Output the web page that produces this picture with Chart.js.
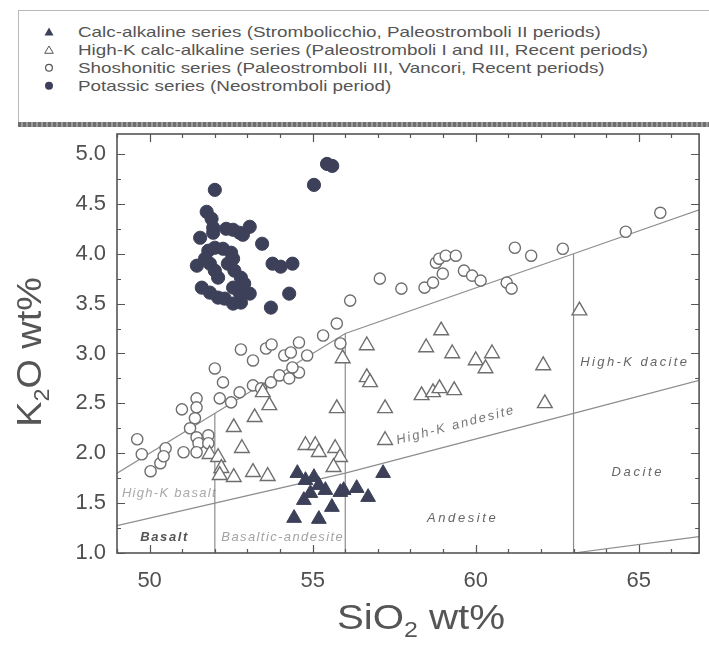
<!DOCTYPE html>
<html>
<head>
<meta charset="utf-8">
<script src="https://cdn.jsdelivr.net/npm/chart.js@4.4.1/dist/chart.umd.min.js"></script>
<style>
  html, body { margin: 0; padding: 0; background: #fff; }
  #wrap { position: relative; width: 709px; height: 648px; overflow: hidden; }
  #chart { position: absolute; left: 0; top: 0; }
  #legend {
    position: absolute; left: 18px; top: 10px; width: 720px; height: 112px;
    box-sizing: border-box; border: 1px solid #b8b8b8; border-bottom: none; background: #fff;
  }
  #legend .band {
    position: absolute; left: -1px; right: 0; bottom: -5px; height: 5px;
    background: repeating-linear-gradient(90deg, #6f6f6f 0 3px, #9c9c9c 3px 5px);
  }
  #legend .row {
    position: absolute; left: 0; height: 20px; display: flex; align-items: center;
    font: 14.5px "Liberation Sans", Arial, sans-serif; color: #555; white-space: nowrap;
  }
  #legend .row svg { margin-left: 25px; margin-right: 24px; flex: none; }
  #legend .row span { display: inline-block; transform: scaleX(1.3); transform-origin: 0 50%; }
</style>
</head>
<body>
<div id="wrap">
  <canvas id="chart" width="709" height="648"></canvas>
  <div id="legend"><div class="band"></div></div>
</div>
<script>
// Series names
const seriesLabels = [
  'Calc-alkaline series (Strombolicchio, Paleostromboli II periods)',
  'High-K calc-alkaline series (Paleostromboli I and III, Recent periods)',
  'Shoshonitic series (Paleostromboli III, Vancori, Recent periods)',
  'Potassic series (Neostromboli period)'
];

// Calc-alkaline series: SiO2 and K2O (wt%)
const calcAlkSiO2 = [54.53, 54.78, 55.04, 55.19, 54.93, 55.39, 55.59, 55.85, 54.43, 55.19, 54.73, 57.16, 55.95, 56.35, 56.70];
const calcAlkK2O  = [1.80, 1.73, 1.76, 1.68, 1.60, 1.63, 1.46, 1.61, 1.35, 1.34, 1.53, 1.80, 1.63, 1.65, 1.56];

// High-K calc-alkaline series
const highKSiO2 = [52.58, 53.22, 53.67, 53.47, 52.83, 51.84, 52.10, 52.20, 52.15, 52.58, 53.17, 53.62,
                   54.78, 55.08, 55.19, 55.69, 55.84, 55.64, 55.74, 55.92,
                   56.66, 58.94, 58.48, 59.28, 60.00, 60.50, 60.30, 62.07, 56.66, 56.76, 57.22,
                   58.34, 58.69, 58.89, 59.34, 62.12, 63.18, 57.22];
const highKK2O  = [2.26, 2.36, 2.48, 2.61, 2.05, 1.99, 1.96, 1.85, 1.78, 1.76, 1.81, 1.77,
                   2.08, 2.08, 2.01, 2.05, 1.96, 1.86, 2.45, 2.95,
                   3.08, 3.23, 3.06, 3.00, 2.93, 3.00, 2.85, 2.88, 2.76, 2.71, 2.45,
                   2.58, 2.61, 2.65, 2.63, 2.50, 3.43, 2.13];

// Shoshonitic series
const shoshSiO2 = [49.62, 49.76, 50.03, 50.33, 50.49, 50.43, 50.99, 51.44, 51.44, 51.39, 51.24, 51.44,
                   51.50, 51.80, 51.80, 51.04, 51.44, 52.00, 52.25, 52.15, 52.50, 52.76, 53.17, 52.80,
                   53.17, 53.57, 53.74, 53.42, 53.72, 53.98, 54.13, 54.33, 54.58, 54.58, 54.83, 54.28,
                   54.38, 55.32, 55.74, 55.85, 56.15, 57.06, 57.72, 58.43, 58.69, 58.99, 58.78, 58.88,
                   59.08, 59.39, 59.64, 59.89, 60.15, 60.95, 61.10, 61.20, 61.70, 62.67, 64.60, 65.66];
const shoshK2O  = [2.14, 1.99, 1.82, 1.90, 2.05, 1.97, 2.44, 2.55, 2.46, 2.35, 2.25, 2.16,
                   2.10, 2.18, 2.10, 2.01, 2.01, 2.85, 2.71, 2.55, 2.51, 2.61, 2.68, 3.04,
                   2.93, 3.05, 3.09, 2.65, 2.71, 2.78, 2.98, 3.01, 3.11, 2.81, 2.98, 2.75,
                   2.86, 3.18, 3.30, 3.10, 3.53, 3.75, 3.65, 3.66, 3.71, 3.80, 3.91, 3.95,
                   3.98, 3.98, 3.83, 3.78, 3.73, 3.71, 3.65, 4.06, 3.98, 4.05, 4.22, 4.41];

// Potassic series
const potSiO2 = [52.00, 51.75, 51.90, 51.95, 51.95, 51.55, 52.35, 52.56, 52.76, 53.07, 52.86, 53.45,
                 52.00, 51.80, 52.25, 52.50, 51.70, 51.45, 51.85, 52.40, 52.56, 52.00, 52.10, 52.60,
                 52.80, 53.77, 54.02, 54.38, 52.90, 52.56, 51.60, 51.85, 52.10, 52.30, 52.56, 52.80,
                 53.07, 52.76, 54.28, 53.72, 55.04, 55.44, 55.60];
const potK2O  = [4.64, 4.42, 4.35, 4.26, 4.21, 4.16, 4.25, 4.24, 4.21, 4.27, 4.19, 4.10,
                 4.06, 4.03, 4.05, 4.01, 3.95, 3.88, 3.90, 3.90, 3.95, 3.83, 3.76, 3.83,
                 3.76, 3.90, 3.87, 3.90, 3.70, 3.66, 3.66, 3.61, 3.56, 3.55, 3.50, 3.51,
                 3.60, 3.61, 3.60, 3.46, 4.69, 4.90, 4.88];

// Classification boundaries (Peccerillo & Taylor type)
const shoBoundSiO2 = [49, 56, 63, 67];
const shoBoundK2O  = [1.80, 3.20, 4.00, 4.457];
const hkBoundSiO2  = [49, 52, 56, 63, 67];
const hkBoundK2O   = [1.275, 1.50, 1.80, 2.40, 2.743];
const lowKBoundSiO2 = [63, 67];
const lowKBoundK2O  = [1.00, 1.171];
// Rock-type dividers: SiO2 position and upper K2O end
const dividerSiO2 = [52, 56, 63];
const dividerTopK2O = [2.40, 3.20, 4.00];

// Axis ticks
const xTickValues = [50, 55, 60, 65];
const yTickValues = [1.0, 1.5, 2.0, 2.5, 3.0, 3.5, 4.0, 4.5, 5.0];

const pairs = (xs, ys) => xs.map((v, i) => ({ x: v, y: ys[i] }));

const DARK = '#3c4058';
const OPEN = '#6e6e6e';
const LINE = '#8d8d8d';

const boundaryStyle = {
  type: 'line', showLine: true, pointRadius: 0, pointHoverRadius: 0,
  borderColor: LINE, borderWidth: 1.2, fill: false, tension: 0, order: 5
};

const datasets = [
  { label: seriesLabels[0], data: pairs(calcAlkSiO2, calcAlkK2O), pointStyle: 'triangle',
    pointRadius: 8.5, backgroundColor: DARK, borderColor: DARK, borderWidth: 1, order: 0 },
  { label: seriesLabels[1], data: pairs(highKSiO2, highKK2O), pointStyle: 'triangle',
    pointRadius: 8.5, backgroundColor: '#fff', borderColor: OPEN, borderWidth: 1.4, order: 1 },
  { label: seriesLabels[2], data: pairs(shoshSiO2, shoshK2O), pointStyle: 'circle',
    pointRadius: 5.6, backgroundColor: '#fff', borderColor: OPEN, borderWidth: 1.4, order: 2 },
  { label: seriesLabels[3], data: pairs(potSiO2, potK2O), pointStyle: 'circle',
    pointRadius: 6.6, backgroundColor: DARK, borderColor: DARK, borderWidth: 1, order: 3 },
  Object.assign({ label: 'sho', data: pairs(shoBoundSiO2, shoBoundK2O) }, boundaryStyle),
  Object.assign({ label: 'hk', data: pairs(hkBoundSiO2, hkBoundK2O) }, boundaryStyle),
  Object.assign({ label: 'lk', data: pairs(lowKBoundSiO2, lowKBoundK2O) }, boundaryStyle)
];
dividerSiO2.forEach((s, i) => {
  datasets.push(Object.assign({ label: 'div' + s, data: [{ x: s, y: 1.0 }, { x: s, y: dividerTopK2O[i] }] }, boundaryStyle));
});

const FONT = '"Liberation Sans", Arial, Helvetica, sans-serif';

// Rock-type field names, placed in data units
const fieldNames = [
  { text: 'High-K basalt', x: 49.15, y: 1.60, align: 'left', color: '#a9a9a9', weight: '', spacing: 1.3 },
  { text: 'Basalt', x: 50.46, y: 1.16, align: 'center', color: '#555', weight: 'bold ', spacing: 1.6 },
  { text: 'Basaltic-andesite', x: 52.2, y: 1.16, align: 'left', color: '#a3a3a3', weight: '', spacing: 1.4 },
  { text: 'Andesite', x: 59.6, y: 1.35, align: 'center', color: '#666', weight: '', spacing: 2.6 },
  { text: 'Dacite', x: 64.97, y: 1.81, align: 'center', color: '#666', weight: '', spacing: 2.6 },
  { text: 'High-K dacite', x: 64.88, y: 2.91, align: 'center', color: '#666', weight: '', spacing: 2.4 },
  { text: 'High-K andesite', x: 59.39, y: 2.28, align: 'center', color: '#777', weight: '', spacing: 2.0, alongHK: true }
];

const fieldLabels = {
  id: 'fieldLabels',
  beforeDatasetsDraw(chart) {
    const { ctx, scales: { x, y } } = chart;
    const p1x = x.getPixelForValue(hkBoundSiO2[2]), p1y = y.getPixelForValue(hkBoundK2O[2]);
    const p2x = x.getPixelForValue(hkBoundSiO2[3]), p2y = y.getPixelForValue(hkBoundK2O[3]);
    const ang = Math.atan2(p2y - p1y, p2x - p1x);
    fieldNames.forEach(f => {
      ctx.save();
      ctx.font = 'italic ' + f.weight + '13px ' + FONT;
      ctx.fillStyle = f.color;
      ctx.letterSpacing = f.spacing + 'px';
      ctx.textAlign = f.align;
      ctx.textBaseline = 'middle';
      ctx.translate(x.getPixelForValue(f.x), y.getPixelForValue(f.y));
      if (f.alongHK) ctx.rotate(ang);
      ctx.fillText(f.text, 0, 0);
      ctx.restore();
    });
  }
};

// Box frame with inward ticks on all four sides
const frame = {
  id: 'frame',
  afterDatasetsDraw(chart) {
    const { ctx, chartArea: a, scales: { x, y } } = chart;
    ctx.save();
    ctx.strokeStyle = '#555';
    ctx.lineWidth = 1.2;
    ctx.beginPath();
    for (let v = Math.ceil(x.min); v <= x.max; v++) {
      const px = Math.round(x.getPixelForValue(v)) + 0.5;
      const L = v % 5 === 0 ? 8 : 4;
      ctx.moveTo(px, a.bottom); ctx.lineTo(px, a.bottom - L);
      ctx.moveTo(px, a.top); ctx.lineTo(px, a.top + L);
    }
    for (let k = Math.ceil(y.min * 4); k <= y.max * 4; k++) {
      const py = Math.round(y.getPixelForValue(k / 4)) + 0.5;
      const L = k % 2 === 0 ? 8 : 4;
      ctx.moveTo(a.left, py); ctx.lineTo(a.left + L, py);
      ctx.moveTo(a.right, py); ctx.lineTo(a.right - L, py);
    }
    ctx.stroke();
    ctx.lineWidth = 1.6;
    ctx.strokeRect(a.left, a.top, a.right - a.left, a.bottom - a.top);
    ctx.restore();
  }
};

// Axis titles with subscripts
function drawSubTitle(ctx, parts, size) {
  let w = 0;
  parts.forEach(p => { ctx.font = (p.sub ? size * 0.62 : size) + 'px ' + FONT; w += ctx.measureText(p.t).width; });
  let cx = -w / 2;
  parts.forEach(p => {
    ctx.font = (p.sub ? size * 0.62 : size) + 'px ' + FONT;
    ctx.fillText(p.t, cx, p.sub ? size * 0.22 : 0);
    cx += ctx.measureText(p.t).width;
  });
}
const axisTitles = {
  id: 'axisTitles',
  afterDraw(chart) {
    const { ctx } = chart;
    ctx.save();
    ctx.fillStyle = '#555';
    ctx.textAlign = 'left';
    ctx.textBaseline = 'alphabetic';
    ctx.save();
    ctx.translate(421, 629);
    ctx.scale(1.15, 1);
    drawSubTitle(ctx, [{ t: 'SiO' }, { t: '2', sub: true }, { t: ' wt%' }], 35);
    ctx.restore();
    ctx.save();
    ctx.translate(41, 352);
    ctx.rotate(-Math.PI / 2);
    ctx.scale(1.08, 1);
    drawSubTitle(ctx, [{ t: 'K' }, { t: '2', sub: true }, { t: 'O wt%' }], 35);
    ctx.restore();
    ctx.restore();
  }
};

new Chart(document.getElementById('chart'), {
  type: 'scatter',
  data: { datasets },
  options: {
    responsive: false,
    devicePixelRatio: 1,
    animation: false,
    layout: { padding: { top: 134, right: 4, left: 0, bottom: 0 } },
    plugins: { legend: { display: false }, tooltip: { enabled: false } },
    scales: {
      x: {
        type: 'linear', min: 49, max: 66.85,
        grid: { display: false, drawTicks: false },
        border: { display: false },
        afterFit(s) { s.height = 95; },
        afterBuildTicks(s) { s.ticks = xTickValues.map(v => ({ value: v })); },
        ticks: { padding: 15, color: '#505050', font: { family: FONT, size: 22 }, callback: v => String(v) }
      },
      y: {
        type: 'linear', min: 1.0, max: 5.2,
        grid: { display: false, drawTicks: false },
        border: { display: false },
        afterFit(s) { s.width = 117; },
        afterBuildTicks(s) { s.ticks = yTickValues.map(v => ({ value: v })); },
        ticks: { padding: 11, color: '#505050', font: { family: FONT, size: 22 }, callback: v => Number(v).toFixed(1) }
      }
    }
  },
  plugins: [fieldLabels, frame, axisTitles]
});

// Legend box
const legendMarkers = [
  '<polygon points="5,0.5 9.5,8.5 0.5,8.5" fill="' + DARK + '"/>',
  '<polygon points="5,1 9.3,8.3 0.7,8.3" fill="#fff" stroke="#555" stroke-width="1"/>',
  '<circle cx="5" cy="4.8" r="3.4" fill="#fff" stroke="#555" stroke-width="1.2"/>',
  '<circle cx="5" cy="4.8" r="4" fill="' + DARK + '"/>'
];
const legendEl = document.getElementById('legend');
const rowTops = [11, 29, 47, 65];
seriesLabels.forEach((lab, i) => {
  const row = document.createElement('div');
  row.className = 'row';
  row.style.top = rowTops[i] + 'px';
  row.innerHTML = '<svg width="10" height="10" viewBox="0 0 10 10">' + legendMarkers[i] + '</svg>';
  const span = document.createElement('span');
  span.textContent = lab;
  row.appendChild(span);
  legendEl.appendChild(row);
});
</script>
</body>
</html>
